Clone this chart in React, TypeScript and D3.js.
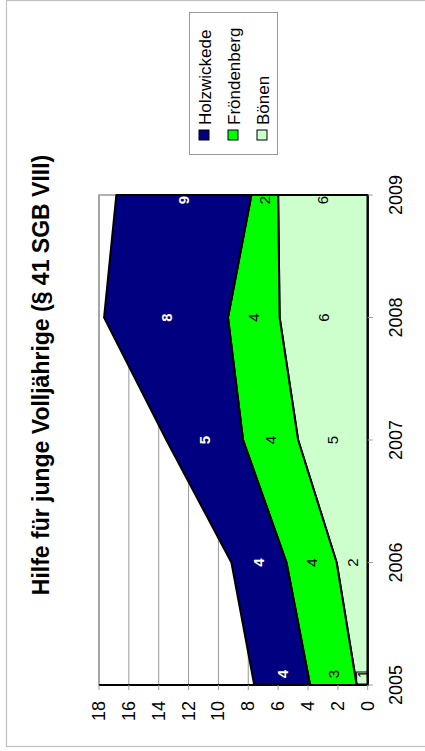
import React from 'react';
import * as d3 from 'd3';

const years = ['2005', '2006', '2007', '2008', '2009'];
const seriesNames = ['Bönen', 'Fröndenberg', 'Holzwickede'];
const boenen = [0.74, 2.08, 4.66, 5.9, 6.0];
const froendenberg = [3.12, 3.36, 3.69, 3.46, 1.79];
const holzwickede = [3.74, 3.69, 5.14, 8.3, 9.05];
const boenenLabels = ['1', '2', '5', '6', '6'];
const froendenbergLabels = ['3', '4', '4', '4', '2'];
const holzwickedeLabels = ['4', '4', '5', '8', '9'];
const valueTicks = [0, 2, 4, 6, 8, 10, 12, 14, 16, 18];
const legendOrder = ['Holzwickede', 'Fröndenberg', 'Bönen'];
const title = 'Hilfe für junge Volljährige (§ 41 SGB VIII)';

const colors: Record<string, string> = {
  'Bönen': '#CCFFCC',
  'Fröndenberg': '#00FF00',
  'Holzwickede': '#000080',
};
const labelStyle: Record<string, { fill: string; weight: string }> = {
  'Bönen': { fill: '#000', weight: 'normal' },
  'Fröndenberg': { fill: '#000', weight: 'normal' },
  'Holzwickede': { fill: '#fff', weight: 'bold' },
};
const labelTexts: Record<string, string[]> = {
  'Bönen': boenenLabels,
  'Fröndenberg': froendenbergLabels,
  'Holzwickede': holzwickedeLabels,
};

const FONT = 'Liberation Sans, Arial, sans-serif';

export default function App() {
  const rows = years.map((y, i) => ({
    year: y,
    'Bönen': boenen[i],
    'Fröndenberg': froendenberg[i],
    'Holzwickede': holzwickede[i],
  }));
  const stacked = d3.stack<any>().keys(seriesNames)(rows);

  // chart is rotated: value axis runs right-to-left, categories bottom-to-top
  const plotLeft = 99, plotRight = 367.7, plotTop = 195, plotBottom = 685;
  const x = d3.scaleLinear().domain([0, 18]).range([plotRight, plotLeft]);
  const y = d3.scalePoint<string>().domain(years).range([plotBottom, plotTop]);

  const area = d3
    .area<any>()
    .y((d) => y(d.data.year) as number)
    .x0((d) => x(d[0]))
    .x1((d) => x(d[1]));

  const rot = (px: number, py: number) => `translate(${px},${py}) rotate(-90)`;

  const legendX = d3.scalePoint<string>().domain(legendOrder).range([204, 262]);

  return (
    <svg width={425} height={751} style={{ position: 'absolute', left: 0, top: 0 }} fontFamily={FONT}>
      <rect x={0} y={0} width={425} height={751} fill="#fff" />
      <rect x={6.5} y={0.5} width={440} height={746} fill="none" stroke="#c0c0c0" strokeWidth={1.2} />

      {/* title */}
      <text transform={rot(48.5, 375)} textAnchor="middle" fontSize={23} fontWeight="bold" fill="#000">
        {title}
      </text>

      {/* plot area border */}
      <rect x={plotLeft} y={plotTop} width={plotRight - plotLeft} height={plotBottom - plotTop} fill="#fff" stroke="#999" strokeWidth={1.5} />

      {/* gridlines */}
      {valueTicks.filter((t) => t > 0).map((t) => (
        <line key={'g' + t} x1={x(t)} x2={x(t)} y1={plotTop} y2={plotBottom} stroke="#999" strokeWidth={1} />
      ))}

      {/* areas */}
      {stacked.map((s) => (
        <path key={s.key} d={area(s) as string} fill={colors[s.key]} stroke="#000" strokeWidth={2} strokeLinejoin="round" />
      ))}

      {/* axes */}
      <line x1={plotRight} x2={plotRight} y1={plotTop} y2={plotBottom} stroke="#000" strokeWidth={2} />
      <line x1={plotLeft} x2={plotRight + 1} y1={plotBottom} y2={plotBottom} stroke="#000" strokeWidth={2} />
      {valueTicks.map((t) => (
        <g key={'vt' + t}>
          <line x1={x(t)} x2={x(t)} y1={plotBottom} y2={plotBottom + 5} stroke="#999" strokeWidth={1} />
          <text transform={rot(x(t), plotBottom + 16)} textAnchor="end" dominantBaseline="central" fontSize={18} fill="#000">
            {String(t)}
          </text>
        </g>
      ))}
      {years.map((yr) => (
        <g key={'ct' + yr}>
          <line x1={plotRight} x2={plotRight + 5} y1={y(yr)} y2={y(yr)} stroke="#999" strokeWidth={1} />
          <text transform={rot(plotRight + 34, y(yr) as number)} textAnchor="middle" fontSize={18} fill="#000">
            {yr}
          </text>
        </g>
      ))}

      {/* data labels */}
      {stacked.map((s) =>
        s.map((d, i) => {
          const cx = (x(d[0]) + x(d[1])) / 2;
          const cy = Math.min(Math.max(y(years[i]) as number, plotTop + 5), plotBottom - 11);
          const w = Math.abs(x(d[0]) - x(d[1]));
          const st = labelStyle[s.key];
          return (
            <g key={s.key + i}>
              {w < 14 && (
                <rect x={x(d[1])} y={cy - 2} width={w} height={plotBottom - cy + 1} fill="none" stroke="#000" strokeWidth={1} />
              )}
              <text transform={rot(cx, cy)} textAnchor="middle" dominantBaseline="central" fontSize={15} fontWeight={st.weight} fill={st.fill}>
                {labelTexts[s.key][i]}
              </text>
            </g>
          );
        })
      )}

      {/* legend */}
      <rect x={189.5} y={12.5} width={88} height={142} fill="#fff" stroke="#999" strokeWidth={1} />
      {legendOrder.map((name) => {
        const cx = legendX(name) as number;
        return (
          <g key={'lg' + name}>
            <rect x={cx - 5} y={130} width={10} height={10} fill={colors[name]} stroke="#000" strokeWidth={1} />
            <text transform={rot(cx + 6.5, 125)} textAnchor="start" fontSize={17} fill="#000">
              {name}
            </text>
          </g>
        );
      })}
    </svg>
  );
}
